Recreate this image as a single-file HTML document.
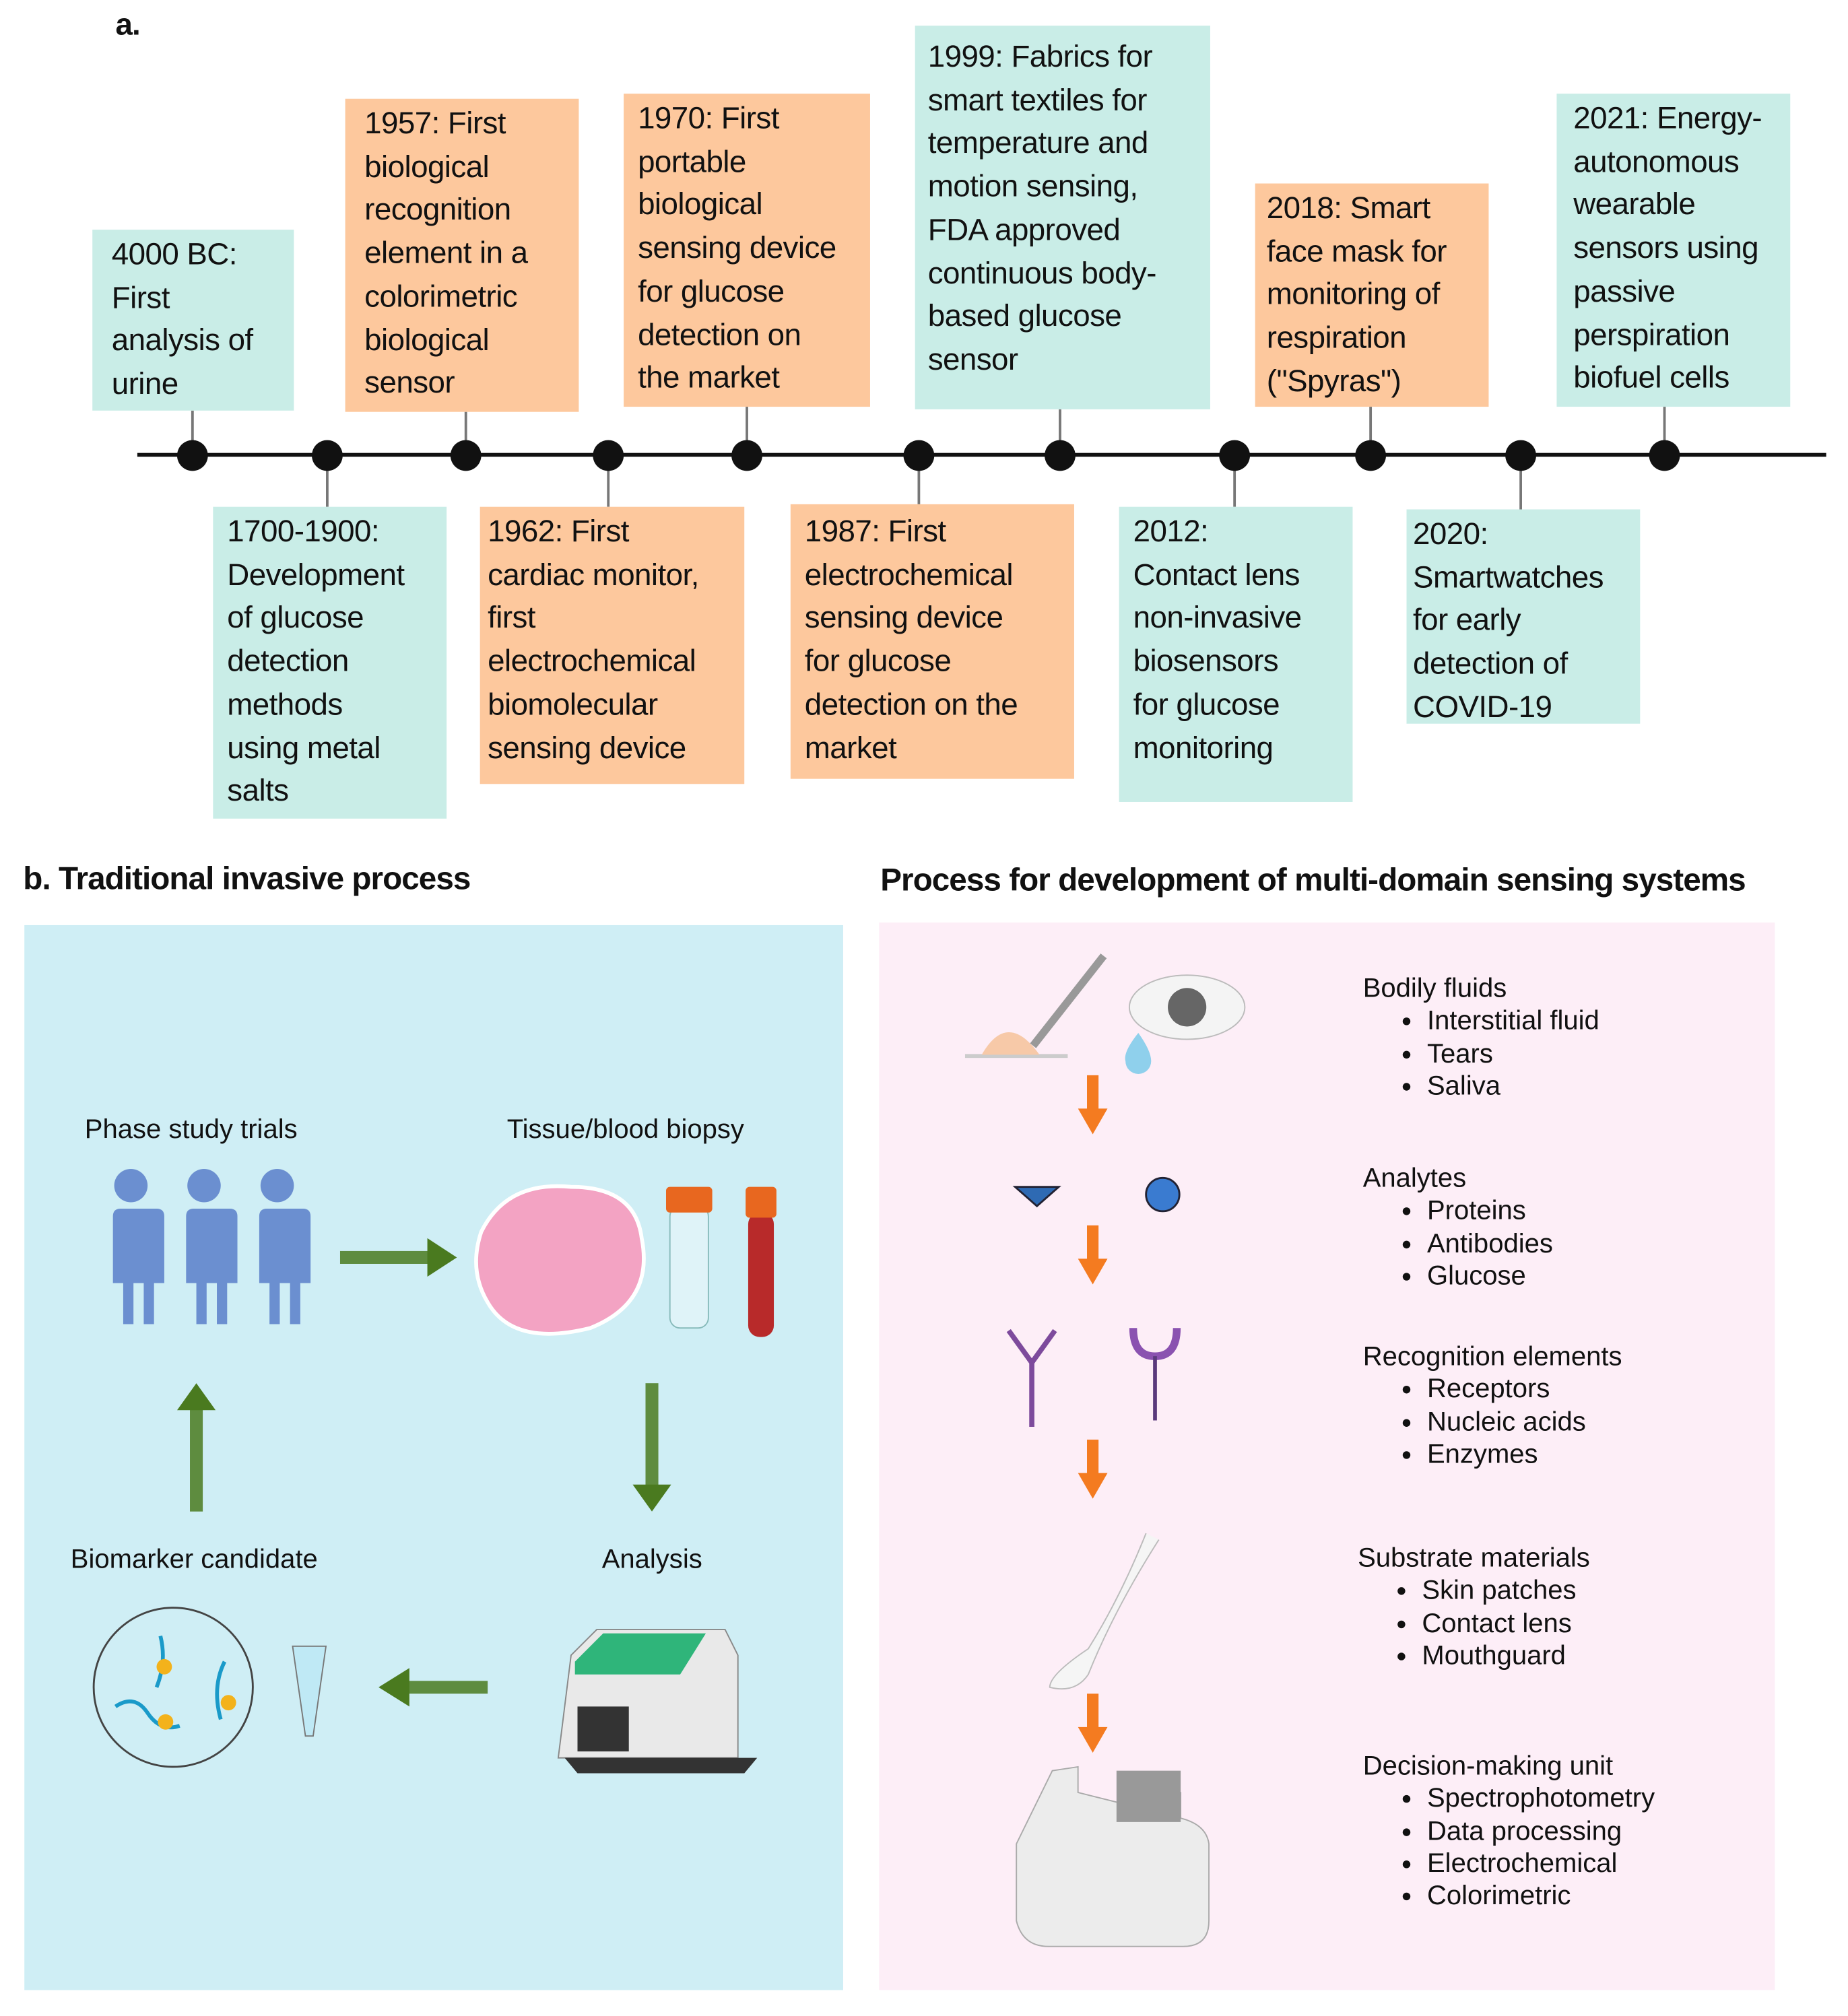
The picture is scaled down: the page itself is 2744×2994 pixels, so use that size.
<!DOCTYPE html>
<html><head><meta charset="utf-8"><style>
html,body{margin:0;padding:0;background:#fff;width:2744px;height:2994px;overflow:hidden}
#w{position:absolute;left:0;top:0;width:1440px;height:1571px;transform:scale(1.90556);transform-origin:0 0;font-family:"Liberation Sans",sans-serif;color:#111}
.b{position:absolute;box-sizing:border-box;padding:3px 0 0 15px;font-size:24px;line-height:33.7px;white-space:nowrap;letter-spacing:-0.3px}
.t{background:#c9ede7}.o{background:#fdc89d}
.v{position:absolute;width:2px;background:#777}
.d{position:absolute;width:24px;height:24px;border-radius:50%;background:#111;top:343px}
.l{position:absolute;font-size:21px;white-space:nowrap}
.h{position:absolute;font-size:25px;font-weight:bold;white-space:nowrap;letter-spacing:-0.5px}
.r{position:absolute;font-size:21px;line-height:25.3px;white-space:nowrap}
.r ul{margin:0;padding-left:50px}
</style></head><body><div id="w">
<div class="h" style="left:90px;top:6px;font-size:24px">a.</div>
<div style="position:absolute;left:107px;top:353px;width:1316px;height:3px;background:#111"></div>
<div class="v" style="left:149px;top:320px;height:35px"></div>
<div class="v" style="left:362px;top:321px;height:34px"></div>
<div class="v" style="left:581px;top:317px;height:38px"></div>
<div class="v" style="left:825px;top:319px;height:36px"></div>
<div class="v" style="left:1067px;top:317px;height:38px"></div>
<div class="v" style="left:1296px;top:317px;height:38px"></div>
<div class="v" style="left:254px;top:355px;height:40px"></div>
<div class="v" style="left:473px;top:355px;height:40px"></div>
<div class="v" style="left:715px;top:355px;height:38px"></div>
<div class="v" style="left:961px;top:355px;height:40px"></div>
<div class="v" style="left:1184px;top:355px;height:42px"></div>
<div class="d" style="left:138px"></div><div class="d" style="left:243px"></div><div class="d" style="left:351px"></div><div class="d" style="left:462px"></div><div class="d" style="left:570px"></div><div class="d" style="left:704px"></div><div class="d" style="left:814px"></div><div class="d" style="left:950px"></div><div class="d" style="left:1056px"></div><div class="d" style="left:1173px"></div><div class="d" style="left:1285px"></div>
<div class="b t" style="left:72px;top:179px;width:157px;height:141px">4000 BC:<br>First<br>analysis of<br>urine</div>
<div class="b o" style="left:269px;top:77px;width:182px;height:244px">1957: First<br>biological<br>recognition<br>element in a<br>colorimetric<br>biological<br>sensor</div>
<div class="b o" style="left:486px;top:73px;width:192px;height:244px;padding-left:11px">1970: First<br>portable<br>biological<br>sensing device<br>for glucose<br>detection on<br>the market</div>
<div class="b t" style="left:713px;top:20px;width:230px;height:299px;padding-left:10px;padding-top:8px">1999: Fabrics for<br>smart textiles for<br>temperature and<br>motion sensing,<br>FDA approved<br>continuous body-<br>based glucose<br>sensor</div>
<div class="b o" style="left:978px;top:143px;width:182px;height:174px;padding-left:9px">2018: Smart<br>face mask for<br>monitoring of<br>respiration<br>("Spyras")</div>
<div class="b t" style="left:1213px;top:73px;width:182px;height:244px;padding-left:13px">2021: Energy-<br>autonomous<br>wearable<br>sensors using<br>passive<br>perspiration<br>biofuel cells</div>
<div class="b t" style="left:166px;top:395px;width:182px;height:243px;padding-left:11px">1700-1900:<br>Development<br>of glucose<br>detection<br>methods<br>using metal<br>salts</div>
<div class="b o" style="left:374px;top:395px;width:206px;height:216px;padding-left:6px">1962: First<br>cardiac monitor,<br>first<br>electrochemical<br>biomolecular<br>sensing device</div>
<div class="b o" style="left:616px;top:393px;width:221px;height:214px;padding-left:11px;padding-top:5px">1987: First<br>electrochemical<br>sensing device<br>for glucose<br>detection on the<br>market</div>
<div class="b t" style="left:872px;top:395px;width:182px;height:230px;padding-left:11px">2012:<br>Contact lens<br>non-invasive<br>biosensors<br>for glucose<br>monitoring</div>
<div class="b t" style="left:1096px;top:397px;width:182px;height:167px;padding-left:5px">2020:<br>Smartwatches<br>for early<br>detection of<br>COVID-19</div>
<div class="h" style="left:18px;top:671px">b. Traditional invasive process</div>
<div class="h" style="left:686px;top:672px">Process for development of multi-domain sensing systems</div>
<div style="position:absolute;left:19px;top:721px;width:638px;height:830px;background:#cfeef5"></div>
<div style="position:absolute;left:685px;top:719px;width:698px;height:832px;background:#fdeef7"></div>
<div class="l" style="left:66px;top:869px">Phase study trials</div>
<div class="l" style="left:395px;top:869px">Tissue/blood biopsy</div>
<div class="l" style="left:55px;top:1204px">Biomarker candidate</div>
<div class="l" style="left:469px;top:1204px">Analysis</div>
<svg style="position:absolute;left:0;top:0" width="1440" height="1571">
 <g fill="#6b8fd0">
  <g id="p"><circle cx="102" cy="924" r="13"/><path d="M82 942h40q6 0 6 6v52h-8v32h-8v-32h-8v32h-8v-32h-8v-52q0-6 6-6z"/></g>
  <use href="#p" x="57"/><use href="#p" x="114"/>
 </g>
 <g fill="#4a7a1f">
  <rect x="265" y="975" width="70" height="10" opacity=".85"/><path d="M333 965l23 15-23 15z"/>
  <rect x="503" y="1078" width="10" height="80" opacity=".85"/><path d="M493 1157h30l-15 21z"/>
  <rect x="148" y="1098" width="10" height="80" opacity=".85"/><path d="M138 1099h30l-15-21z"/>
  <rect x="318" y="1310" width="62" height="10" opacity=".85"/><path d="M319 1300l-24 15 24 15z"/>
 </g>
 <path d="M375 960q20-40 70-35q50 0 55 40q10 50-40 70q-60 15-80-20q-15-25-5-55z" fill="#f3a3c3" stroke="#fff" stroke-width="3"/>
 <rect x="522" y="940" width="30" height="95" rx="8" fill="#dff3f8" stroke="#8bb" /><rect x="519" y="925" width="36" height="20" rx="3" fill="#e8671f"/>
 <rect x="583" y="945" width="20" height="97" rx="9" fill="#b82a2a"/><rect x="581" y="925" width="24" height="24" rx="3" fill="#e8671f"/>
 <circle cx="135" cy="1315" r="62" fill="none" stroke="#444" stroke-width="1.5"/>
 <path d="M125 1275q5 20-3 40M175 1295q-10 20-3 45M90 1330q15-10 25 5t25 10" stroke="#1a9ac9" stroke-width="3" fill="none"/>
 <circle cx="128" cy="1299" r="6" fill="#f3b21b"/><circle cx="178" cy="1327" r="6" fill="#f3b21b"/><circle cx="129" cy="1342" r="6" fill="#f3b21b"/>
 <path d="M228 1283h26l-10 70h-6z" fill="#bfe9f5" stroke="#777"/>
 <path d="M445 1290l20-20h100l10 20v80h-140z" fill="#e9e9e9" stroke="#888"/><path d="M448 1295l22-22h80l-20 32h-82z" fill="#2fb57a"/><rect x="450" y="1330" width="40" height="35" fill="#333"/><path d="M440 1370h150l-10 12h-130z" fill="#333"/>
 <g fill="#f47b20">
  <rect x="847" y="838" width="9" height="28"/><path d="M840 864h23l-11.5 20z"/>
  <rect x="847" y="955" width="9" height="28"/><path d="M840 981h23l-11.5 20z"/>
  <rect x="847" y="1122" width="9" height="28"/><path d="M840 1148h23l-11.5 20z"/>
  <rect x="847" y="1320" width="9" height="28"/><path d="M840 1346h23l-11.5 20z"/>
 </g>
 <path d="M752 823h80" stroke="#ccc" stroke-width="3"/><path d="M765 822q20-35 45 0z" fill="#f7c9a8"/><path d="M805 815l55-70" stroke="#999" stroke-width="6"/>
 <ellipse cx="925" cy="785" rx="45" ry="25" fill="#f4f4f4" stroke="#bbb"/><circle cx="925" cy="785" r="15" fill="#666"/><path d="M887 805q-12 15-10 22a10 10 0 0 0 20 0q0-8-10-22z" fill="#8fd0ec"/>
 <path d="M791 925h34l-17 15z" fill="#2e6ab3" stroke="#223" stroke-width="1.5"/><circle cx="906" cy="931" r="13" fill="#3a7bd0" stroke="#223" stroke-width="1.5"/>
 <path d="M786 1037l18 25 18-25M804 1060v52" stroke="#7d4a9c" stroke-width="4" fill="none"/>
 <path d="M883 1035q0 22 17 22t17-22" stroke="#8a52b0" stroke-width="6" fill="none"/><path d="M900 1057v50" stroke="#5a3a7c" stroke-width="3"/>
 <path d="M893 1195q-20 50-45 90q-30 20-30 30q20 5 30-10q20-50 55-105" fill="#f5f5f5" stroke="#bbb"/>
 <path d="M820 1380l20-3v20l40 10v-20l40 10v20q20 5 22 20v60q0 20-20 20h-105q-20 0-25-20v-60z" fill="#ececec" stroke="#aaa"/><rect x="870" y="1380" width="50" height="40" fill="#999"/>
</svg>
<div class="r" style="left:1062px;top:758px">Bodily fluids<ul><li>Interstitial fluid</li><li>Tears</li><li>Saliva</li></ul></div>
<div class="r" style="left:1062px;top:906px">Analytes<ul><li>Proteins</li><li>Antibodies</li><li>Glucose</li></ul></div>
<div class="r" style="left:1062px;top:1045px">Recognition elements<ul><li>Receptors</li><li>Nucleic acids</li><li>Enzymes</li></ul></div>
<div class="r" style="left:1058px;top:1202px">Substrate materials<ul><li>Skin patches</li><li>Contact lens</li><li>Mouthguard</li></ul></div>
<div class="r" style="left:1062px;top:1364px">Decision-making unit<ul><li>Spectrophotometry</li><li>Data processing</li><li>Electrochemical</li><li>Colorimetric</li></ul></div>
</div></body></html>
